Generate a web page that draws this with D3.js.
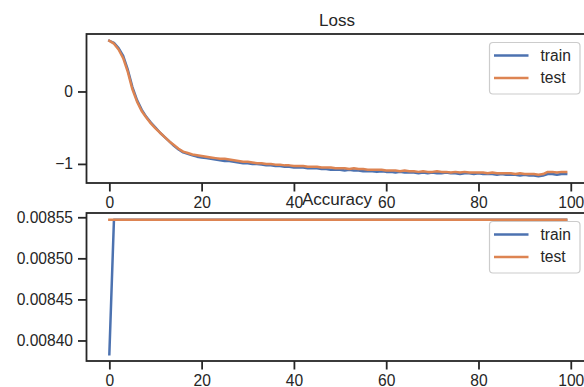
<meta charset="utf-8" />
<script src="https://d3js.org/d3.v7.min.js"></script>
<style>
  body { margin: 0; background: #fff; }
  svg text { font-family: "Liberation Sans", Arial, sans-serif; fill: #262626; }
  .tick line { stroke: #262626; stroke-width: 1.8; }
  .tick text { font-size: 15.6px; }
</style>
<svg width="584" height="387"></svg>
<script>
  // loss per epoch (index = epoch)
  var train_loss = [
    0.70, 0.67, 0.60, 0.49, 0.30, 0.06, -0.12, -0.25, -0.35, -0.43,
    -0.50, -0.57, -0.63, -0.69, -0.75, -0.80, -0.84, -0.86, -0.88, -0.90,
    -0.91, -0.92, -0.93, -0.94, -0.95, -0.96, -0.96, -0.97, -0.98, -0.99,
    -0.99, -1.00, -1.00, -1.01, -1.02, -1.02, -1.03, -1.03, -1.04, -1.04,
    -1.05, -1.05, -1.05, -1.06, -1.06, -1.06, -1.07, -1.07, -1.08, -1.08,
    -1.08, -1.09, -1.08, -1.09, -1.09, -1.10, -1.10, -1.10, -1.11, -1.10,
    -1.11, -1.11, -1.12, -1.11, -1.12, -1.12, -1.12, -1.13, -1.12, -1.13,
    -1.12, -1.13, -1.13, -1.12, -1.13, -1.13, -1.14, -1.13, -1.13, -1.14,
    -1.13, -1.14, -1.14, -1.14, -1.15, -1.14, -1.15, -1.15, -1.15, -1.16,
    -1.15, -1.16, -1.16, -1.17, -1.16, -1.14, -1.14, -1.15, -1.14, -1.14
  ];
  var test_loss = [
    0.70, 0.66, 0.58, 0.46, 0.27, 0.03, -0.14, -0.27, -0.36, -0.44,
    -0.51, -0.57, -0.63, -0.69, -0.74, -0.79, -0.83, -0.85, -0.87, -0.88,
    -0.89, -0.90, -0.91, -0.92, -0.93, -0.93, -0.94, -0.95, -0.96, -0.97,
    -0.97, -0.98, -0.99, -0.99, -1.00, -1.00, -1.01, -1.01, -1.02, -1.02,
    -1.03, -1.03, -1.03, -1.04, -1.04, -1.04, -1.05, -1.05, -1.05, -1.06,
    -1.06, -1.06, -1.07, -1.06, -1.07, -1.07, -1.08, -1.08, -1.08, -1.08,
    -1.09, -1.09, -1.09, -1.10, -1.09, -1.10, -1.10, -1.11, -1.10, -1.11,
    -1.11, -1.10, -1.11, -1.11, -1.12, -1.11, -1.12, -1.11, -1.12, -1.12,
    -1.12, -1.12, -1.13, -1.12, -1.13, -1.13, -1.13, -1.13, -1.14, -1.13,
    -1.14, -1.14, -1.14, -1.15, -1.14, -1.11, -1.11, -1.12, -1.11, -1.11
  ];
  // accuracy per epoch
  var train_acc = [
    0.0083832, 0.008547, 0.008547, 0.008547, 0.008547, 0.008547, 0.008547, 0.008547, 0.008547, 0.008547,
    0.008547, 0.008547, 0.008547, 0.008547, 0.008547, 0.008547, 0.008547, 0.008547, 0.008547, 0.008547,
    0.008547, 0.008547, 0.008547, 0.008547, 0.008547, 0.008547, 0.008547, 0.008547, 0.008547, 0.008547,
    0.008547, 0.008547, 0.008547, 0.008547, 0.008547, 0.008547, 0.008547, 0.008547, 0.008547, 0.008547,
    0.008547, 0.008547, 0.008547, 0.008547, 0.008547, 0.008547, 0.008547, 0.008547, 0.008547, 0.008547,
    0.008547, 0.008547, 0.008547, 0.008547, 0.008547, 0.008547, 0.008547, 0.008547, 0.008547, 0.008547,
    0.008547, 0.008547, 0.008547, 0.008547, 0.008547, 0.008547, 0.008547, 0.008547, 0.008547, 0.008547,
    0.008547, 0.008547, 0.008547, 0.008547, 0.008547, 0.008547, 0.008547, 0.008547, 0.008547, 0.008547,
    0.008547, 0.008547, 0.008547, 0.008547, 0.008547, 0.008547, 0.008547, 0.008547, 0.008547, 0.008547,
    0.008547, 0.008547, 0.008547, 0.008547, 0.008547, 0.008547, 0.008547, 0.008547, 0.008547, 0.008547
  ];
  var test_acc = [
    0.008547, 0.008547, 0.008547, 0.008547, 0.008547, 0.008547, 0.008547, 0.008547, 0.008547, 0.008547,
    0.008547, 0.008547, 0.008547, 0.008547, 0.008547, 0.008547, 0.008547, 0.008547, 0.008547, 0.008547,
    0.008547, 0.008547, 0.008547, 0.008547, 0.008547, 0.008547, 0.008547, 0.008547, 0.008547, 0.008547,
    0.008547, 0.008547, 0.008547, 0.008547, 0.008547, 0.008547, 0.008547, 0.008547, 0.008547, 0.008547,
    0.008547, 0.008547, 0.008547, 0.008547, 0.008547, 0.008547, 0.008547, 0.008547, 0.008547, 0.008547,
    0.008547, 0.008547, 0.008547, 0.008547, 0.008547, 0.008547, 0.008547, 0.008547, 0.008547, 0.008547,
    0.008547, 0.008547, 0.008547, 0.008547, 0.008547, 0.008547, 0.008547, 0.008547, 0.008547, 0.008547,
    0.008547, 0.008547, 0.008547, 0.008547, 0.008547, 0.008547, 0.008547, 0.008547, 0.008547, 0.008547,
    0.008547, 0.008547, 0.008547, 0.008547, 0.008547, 0.008547, 0.008547, 0.008547, 0.008547, 0.008547,
    0.008547, 0.008547, 0.008547, 0.008547, 0.008547, 0.008547, 0.008547, 0.008547, 0.008547, 0.008547
  ];
  var x_ticks = [0, 20, 40, 60, 80, 100];
  var loss_ticks = [-1, 0];
  var acc_ticks = [0.0084, 0.00845, 0.0085, 0.00855];
  var series_names = ["train", "test"];
  var colors = ["#4c72b0", "#dd8452"];

  var svg = d3.select("svg");

  var x = d3.scaleLinear().domain([-4.95, 103.95]).range([86.5, 589]);

  // matplotlib style 5% margins on y
  function padded(arrs) {
    var lo = d3.min(arrs, function (a) { return d3.min(a); }),
      hi = d3.max(arrs, function (a) { return d3.max(a); }),
      m = (hi - lo) * 0.05;
    return [lo - m, hi + m];
  }

  function panel(top, bottom, title, series, yTicks, yFmt) {
    var y = d3.scaleLinear().domain(padded(series)).range([bottom, top]);
    var g = svg.append("g");

    g.append("rect")
      .attr("x", x.range()[0]).attr("y", top)
      .attr("width", x.range()[1] - x.range()[0]).attr("height", bottom - top)
      .attr("fill", "#fff");

    var line = d3.line()
      .x(function (d, i) { return x(i); })
      .y(function (d) { return y(d); });

    series.forEach(function (s, k) {
      g.append("path")
        .datum(s)
        .attr("fill", "none")
        .attr("stroke", colors[k])
        .attr("stroke-width", 2.5)
        .attr("stroke-linejoin", "round")
        .attr("stroke-linecap", "square")
        .attr("d", line);
    });

    g.append("rect")
      .attr("x", x.range()[0]).attr("y", top)
      .attr("width", x.range()[1] - x.range()[0]).attr("height", bottom - top)
      .attr("fill", "none")
      .attr("stroke", "#262626")
      .attr("stroke-width", 1.8);

    var ax = g.append("g")
      .attr("transform", "translate(0," + bottom + ")")
      .call(d3.axisBottom(x).tickValues(x_ticks).tickSize(8.5).tickPadding(5).tickFormat(d3.format("d")));
    ax.select(".domain").remove();

    var ay = g.append("g")
      .attr("transform", "translate(" + x.range()[0] + ",0)")
      .call(d3.axisLeft(y).tickValues(yTicks).tickSize(8.5).tickPadding(5).tickFormat(yFmt));
    ay.select(".domain").remove();

    g.append("text")
      .attr("x", 337)
      .attr("y", top - 8.5)
      .attr("text-anchor", "middle")
      .style("font-size", "17px")
      .text(title);

    // legend, upper right
    var lx = 489.5, ly = top + 8.5;
    var leg = g.append("g");
    leg.append("rect")
      .attr("x", lx).attr("y", ly)
      .attr("width", 90.5).attr("height", 51.5)
      .attr("rx", 3.5)
      .attr("fill", "#fff").attr("fill-opacity", 0.8)
      .attr("stroke", "#cccccc").attr("stroke-width", 1.2);
    series_names.forEach(function (name, k) {
      var yy = ly + 13 + k * 22.5;
      leg.append("line")
        .attr("x1", lx + 4.5).attr("x2", lx + 39)
        .attr("y1", yy).attr("y2", yy)
        .attr("stroke", colors[k]).attr("stroke-width", 2.5);
      leg.append("text")
        .attr("x", lx + 51)
        .attr("y", yy)
        .attr("dy", "0.35em")
        .style("font-size", "15.6px")
        .text(name);
    });
  }

  panel(34, 183, "Loss", [train_loss, test_loss], loss_ticks, d3.format("d"));
  panel(213, 361, "Accuracy", [train_acc, test_acc], acc_ticks, d3.format(".5f"));
</script>
